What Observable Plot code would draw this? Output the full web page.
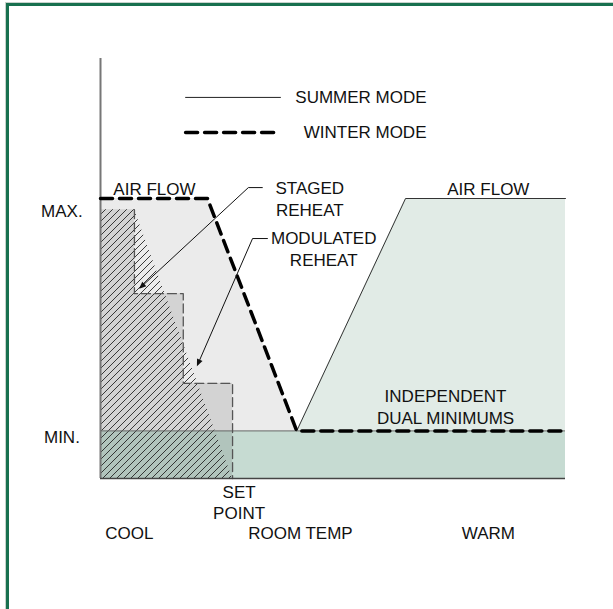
<!DOCTYPE html>
<html>
<head>
<meta charset="utf-8">
<script src="https://cdn.jsdelivr.net/npm/d3@7"></script>
<script src="https://cdn.jsdelivr.net/npm/@observablehq/plot@0.6"></script>
<style>
  html, body { margin: 0; padding: 0; background: #fff; }
  #wrap { position: relative; width: 613px; height: 609px; overflow: hidden; }
  #frame { position: absolute; left: 6px; top: 3px; width: 700px; height: 700px;
           border-left: 3px solid #18704f; border-top: 3px solid #18704f;
           box-shadow: -1px -1px 0 #c8d2cc; pointer-events: none; }
</style>
</head>
<body>
<div id="wrap"><div id="frame"></div></div>
<script>
// Airflow levels (y units, 0 = no flow)
const MAXFLOW = 100;
const MINFLOW = 17;

// Winter mode (dashed) airflow vs room temperature
const winterX = [0, 23, 42.2, 99.4];
const winterY = [100, 100, 17, 17];

// Summer mode (solid) airflow vs room temperature
const summerX = [42.2, 65.6, 100];
const summerY = [17, 100, 100];

// Staged reheat steps
const stagedX = [0, 7.3, 7.3, 17.8, 17.8, 28.4, 28.4];
const stagedY = [96, 96, 66, 66, 34, 34, 0];

// Modulated reheat ramp
const modX = [0, 7.3, 28.4];
const modY = [96, 96, 0];

// Labels
const levelLabels = ["MAX.", "MIN."];
const levelLabelY = [95.4, 14.6];
const zoneLabels = ["COOL", "ROOM TEMP", "WARM"];
const zoneX = [6.2, 43.0, 83.4];
const notes = ["AIR FLOW", "STAGED\nREHEAT", "MODULATED\nREHEAT", "AIR FLOW", "INDEPENDENT\nDUAL MINIMUMS", "SET\nPOINT"];
const noteX = [11.6, 45.0, 48.0, 83.4, 74.2, 29.8];
const noteY = [103.9, 100.2, 82.3, 103.9, 25.9, -8.2];
const legendNames = ["SUMMER MODE", "WINTER MODE"];
const legendY = [136.1, 123.6];

// Leader lines
const stagedLeaderX = [34.8, 31.8, 8.6];
const stagedLeaderY = [103.9, 103.9, 68.2];
const modLeaderX = [35.9, 32.7, 20.9];
const modLeaderY = [85.7, 85.7, 40.7];

const pts = (xs, ys) => xs.map((x, i) => ({x, y: ys[i]}));
const winter = pts(winterX, winterY);
const summer = pts(summerX, summerY);
const staged = pts(stagedX, stagedY);
const modulated = pts(modX, modY);
const font = "Liberation Sans, Arial, Helvetica, sans-serif";

const plot = Plot.plot({
  width: 613,
  height: 609,
  marginLeft: 100,
  marginRight: 48,
  marginTop: 58,
  marginBottom: 131,
  x: {domain: [0, 100], axis: null},
  y: {domain: [0, 150], axis: null},
  style: {fontFamily: font, fontSize: "17px", background: "transparent", overflow: "visible"},
  marks: [
    Plot.areaY([{x: 0}, {x: 100}], {x: "x", y1: 0, y2: MINFLOW, fill: "#c6dbd2"}),
    Plot.areaY(winter.slice(0, 3), {x: "x", y1: MINFLOW, y2: "y", fill: "#ebebeb"}),
    Plot.areaY(summer, {x: "x", y1: MINFLOW, y2: "y", fill: "#e1ebe6"}),
    Plot.areaY(staged, {x: "x", y1: 0, y2: "y", fill: "#000", fillOpacity: 0.1}),
    Plot.areaY(modulated, {x: "x", y1: 0, y2: "y", fill: "url(#hatch)"}),
    Plot.ruleY([MINFLOW], {x1: 0, x2: 100, stroke: "#666", strokeWidth: 1}),
    Plot.line(staged.slice(1), {x: "x", y: "y", stroke: "#555", strokeWidth: 1.3, strokeDasharray: "9,4"}),
    Plot.ruleX([0], {y1: 0, y2: 150, stroke: "#777", strokeWidth: 2}),
    Plot.ruleY([0], {x1: 0, x2: 100, stroke: "#444", strokeWidth: 1.5}),
    Plot.line(summer, {x: "x", y: "y", stroke: "#333", strokeWidth: 1}),
    Plot.line(winter, {x: "x", y: "y", stroke: "#000", strokeWidth: 3.5, strokeDasharray: "12,7"}),
    Plot.line(pts(stagedLeaderX, stagedLeaderY), {x: "x", y: "y", stroke: "#111", strokeWidth: 1, markerEnd: "arrow"}),
    Plot.line(pts(modLeaderX, modLeaderY), {x: "x", y: "y", stroke: "#111", strokeWidth: 1, markerEnd: "arrow"}),
    Plot.line(pts([18.3, 38.7], [legendY[0], legendY[0]]), {x: "x", y: "y", stroke: "#222", strokeWidth: 1}),
    Plot.line(pts([18.3, 38.7], [legendY[1], legendY[1]]), {x: "x", y: "y", stroke: "#000", strokeWidth: 3.5, strokeDasharray: "12,7"}),
    Plot.text(legendNames, {x: [41.9, 43.7], y: legendY, text: d => d, textAnchor: "start", fontSize: 17, fill: "#111"}),
    Plot.text(levelLabels, {x: [-8.3, -8.3], y: levelLabelY, text: d => d, fontSize: 17, fill: "#111"}),
    Plot.text(zoneLabels, {x: zoneX, y: [-19.6, -19.6, -19.6], text: d => d, fontSize: 17, fill: "#111"}),
    Plot.text(notes, {x: noteX, y: noteY, text: d => d, fontSize: 17, lineHeight: 1.28, fill: "#111"})
  ]
});

const svg = d3.select(plot);
const defs = svg.insert("defs", ":first-child");
const pat = defs.append("pattern").attr("id", "hatch").attr("patternUnits", "userSpaceOnUse")
  .attr("width", 7).attr("height", 7);
pat.append("path").attr("d", "M-1,1 l2,-2 M0,7 l7,-7 M6,8 l2,-2")
  .attr("stroke", "#262626").attr("stroke-width", 0.9).attr("fill", "none");
// turn Plot's open arrow markers into small filled arrowheads
svg.selectAll("marker").each(function() {
  const m = d3.select(this);
  m.attr("markerWidth", 13).attr("markerHeight", 13).attr("fill", "#111").attr("stroke", "none");
  m.selectAll("*").remove();
  m.append("path").attr("d", "M-4,-2.3L1.5,0L-4,2.3Z").attr("fill", "#111").attr("stroke", "none");
});

document.getElementById("wrap").insertBefore(plot, document.getElementById("frame"));
</script>
</body>
</html>
